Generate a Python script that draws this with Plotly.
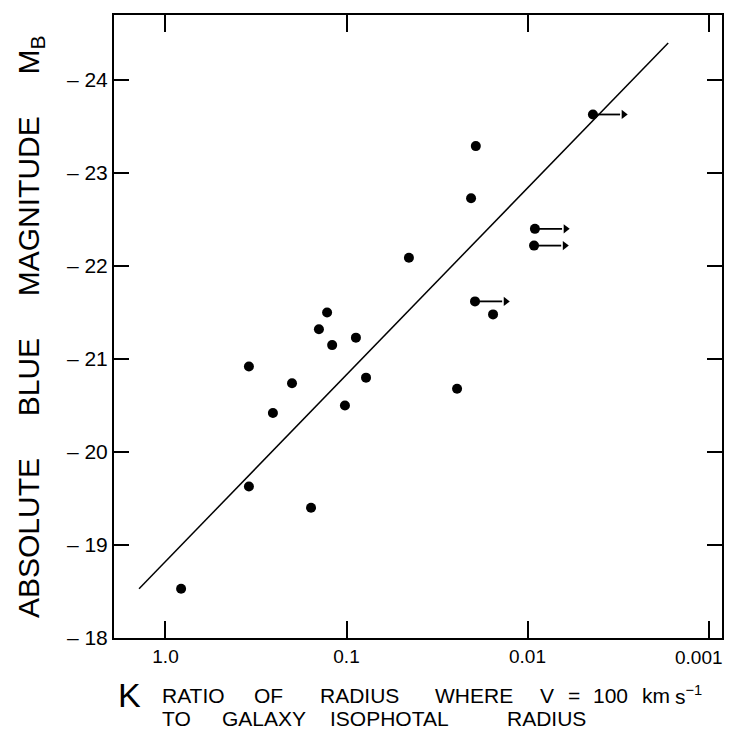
import math
import plotly.graph_objects as go

# Galaxies with measured K (ratio of radius where V = 100 km/s to isophotal radius)
k_measured = [0.82, 0.346, 0.346, 0.255, 0.200, 0.157, 0.142, 0.128, 0.120,
              0.102, 0.0887, 0.078, 0.0452, 0.0245, 0.0205, 0.0193, 0.0155]
mb_measured = [-18.53, -19.63, -20.92, -20.42, -20.74, -19.40, -21.32, -21.50, -21.15,
               -20.50, -21.23, -20.80, -22.09, -20.68, -22.73, -23.29, -21.48]

# Galaxies where K is only an upper limit (drawn with arrows toward smaller K)
k_limit = [0.0195, 0.0091, 0.0092, 0.00435]
mb_limit = [-21.62, -22.40, -22.22, -23.63]

# Fitted relation, end points
k_fit = [1.40, 0.00167]
mb_fit = [-18.53, -24.40]

# Axis ticks (the last x label sits at the frame edge and is placed separately)
x_tickvals = [1.0, 0.1, 0.01, 0.001]
x_ticktext = ["1.0", "0.1", "0.01", ""]
x_edge_label = "0.001"
y_tickvals = [-18, -19, -20, -21, -22, -23, -24]
y_ticktext = ["\u2013 " + str(abs(v)) for v in y_tickvals]

# Axis title words, with the left pixel position of each word
title_line1 = [("RATIO", 160), ("OF", 252), ("RADIUS", 318), ("WHERE", 433),
               ("V", 538), ("=", 566), ("100", 591), ("km", 640),
               ("s<sup>\u22121</sup>", 673)]
title_line2 = [("TO", 160), ("GALAXY", 220), ("ISOPHOTAL", 328), ("RADIUS", 505)]

FONT = "Liberation Sans, Arial, sans-serif"
ARROW_DEC = 0.17  # arrow length in decades of K

fig = go.Figure()

fig.add_trace(go.Scatter(
    x=k_fit, y=mb_fit, mode="lines",
    line=dict(color="black", width=1.5), hoverinfo="skip"))

# Upper-limit arrows: shaft from the point toward smaller K, then a head
shaft_x, shaft_y, head_x = [], [], []
for k, mb in zip(k_limit, mb_limit):
    k_head = k * 10 ** (-ARROW_DEC)
    shaft_x += [k, k_head * 10 ** 0.02, None]
    shaft_y += [mb, mb, None]
    head_x.append(k_head)

fig.add_trace(go.Scatter(
    x=shaft_x, y=shaft_y, mode="lines",
    line=dict(color="black", width=1.8), hoverinfo="skip"))
fig.add_trace(go.Scatter(
    x=head_x, y=mb_limit, mode="markers",
    marker=dict(color="black", size=8, symbol="triangle-right",
                line=dict(width=0)), hoverinfo="skip"))

fig.add_trace(go.Scatter(
    x=k_measured + k_limit, y=mb_measured + mb_limit, mode="markers",
    marker=dict(color="black", size=10, line=dict(width=0))))

annotations = []

NB = "\u00a0"
L, R, T, B = 114, 722, 15, 638
W, H = R - L, B - T


def px(xp):
    return (xp - L) / W


def py(yp):
    return (B - yp) / H


# Tick label at the right end of the K axis, nudged inside the page
annotations.append(dict(
    text=x_edge_label, xref="paper", yref="paper", x=px(699), y=py(657),
    xanchor="center", yanchor="middle", showarrow=False,
    font=dict(family=FONT, size=19, color="black")))

# Vertical axis title
annotations.append(dict(
    text="ABSOLUTE" + NB * 5 + "BLUE" + NB * 5 + "MAGNITUDE" + NB * 5 + "M<sub>B</sub>",
    textangle=-90, xref="paper", yref="paper", x=px(30), y=py(327),
    xanchor="center", yanchor="middle", showarrow=False,
    font=dict(family=FONT, size=30, color="black")))

# Horizontal axis title
annotations.append(dict(
    text="K", xref="paper", yref="paper", x=px(129), y=py(695),
    xanchor="center", yanchor="middle", showarrow=False,
    font=dict(family=FONT, size=34, color="black")))
for words, yc in ((title_line1, 695), (title_line2, 718)):
    for word, left in words:
        annotations.append(dict(
            text=word, xref="paper", yref="paper", x=px(left), y=py(yc),
            xanchor="left", yanchor="middle", showarrow=False,
            font=dict(family=FONT, size=21, color="black")))

fig.update_layout(
    width=730, height=737,
    margin=dict(l=L, r=730 - R, t=T, b=737 - B, autoexpand=False),
    paper_bgcolor="white", plot_bgcolor="white",
    showlegend=False,
    annotations=annotations,
    xaxis=dict(
        type="log", range=[0.2845, -3.0746], automargin=False,
        tickvals=x_tickvals, ticktext=x_ticktext,
        ticks="inside", ticklen=17, tickwidth=1.5, tickcolor="black",
        showline=True, linewidth=2, linecolor="black", mirror="ticks",
        showgrid=False, zeroline=False,
        tickfont=dict(family=FONT, size=19, color="black")),
    yaxis=dict(
        range=[-18.0, -24.7], automargin=False,
        tickvals=y_tickvals, ticktext=y_ticktext,
        ticks="inside", ticklen=15, tickwidth=1.5, tickcolor="black",
        showline=True, linewidth=2, linecolor="black", mirror="ticks",
        showgrid=False, zeroline=False,
        tickfont=dict(family=FONT, size=21, color="black")),
)

fig.write_html("out.html")
